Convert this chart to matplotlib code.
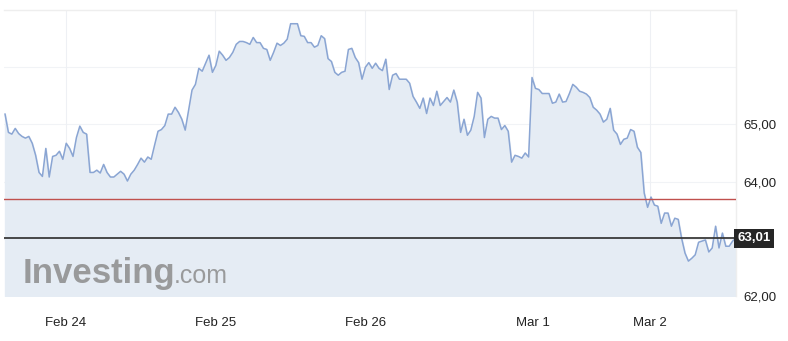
import matplotlib.pyplot as plt
import numpy as np

plt.rcParams['font.family'] = ['Liberation Sans', 'DejaVu Sans']

# Data (price, evenly spaced samples)
prices = [
    65.18, 64.86, 64.83, 64.93, 64.84, 64.79, 64.76, 64.79, 64.67, 64.46,
    64.16, 64.09, 64.58, 64.08, 64.44, 64.46, 64.53, 64.39, 64.67, 64.58,
    64.44, 64.77, 64.97, 64.86, 64.83, 64.16, 64.16, 64.20, 64.15, 64.30,
    64.16, 64.08, 64.08, 64.13, 64.18, 64.13, 64.01, 64.13, 64.20, 64.30,
    64.41, 64.34, 64.43, 64.39, 64.64, 64.88, 64.91, 64.98, 65.18, 65.18,
    65.30, 65.21, 65.09, 64.90, 65.25, 65.60, 65.70, 65.98, 65.93, 66.07,
    66.21, 65.91, 66.03, 66.28, 66.21, 66.12, 66.17, 66.26, 66.40, 66.45,
    66.45, 66.43, 66.40, 66.52, 66.43, 66.43, 66.33, 66.31, 66.12, 66.26,
    66.42, 66.38, 66.42, 66.49, 66.76, 66.76, 66.76, 66.55, 66.54, 66.43,
    66.43, 66.35, 66.38, 66.55, 66.50, 66.15, 66.10, 65.91, 65.86, 65.91,
    65.93, 66.31, 66.33, 66.17, 66.08, 65.79, 66.00, 66.08, 65.98, 66.07,
    65.98, 65.94, 66.14, 65.61, 65.86, 65.89, 65.79, 65.79, 65.79, 65.72,
    65.49, 65.39, 65.28, 65.46, 65.19, 65.46, 65.33, 65.58, 65.33, 65.40,
    65.47, 65.39, 65.60, 65.39, 64.86, 65.09, 64.81, 64.90, 65.14, 65.56,
    65.46, 64.77, 65.09, 65.14, 65.11, 65.11, 64.91, 64.98, 64.88, 64.34,
    64.46, 64.44, 64.41, 64.50, 64.43, 65.82, 65.63, 65.61, 65.54, 65.54,
    65.54, 65.37, 65.39, 65.53, 65.39, 65.40, 65.54, 65.70, 65.65, 65.58,
    65.56, 65.53, 65.47, 65.30, 65.25, 65.18, 65.04, 65.09, 65.28, 64.90,
    64.83, 64.65, 64.74, 64.76, 64.91, 64.88, 64.60, 64.51, 63.80, 63.55,
    63.73, 63.59, 63.57, 63.27, 63.45, 63.45, 63.22, 63.36, 63.34, 63.01,
    62.75, 62.61, 62.66, 62.72, 62.94, 62.96, 62.98, 62.77, 62.84, 63.22,
    62.84, 63.10, 62.87, 62.87, 62.96, 63.01,
]
date_labels = ['Feb 24', 'Feb 25', 'Feb 26', 'Mar 1', 'Mar 2']
date_positions = [17.9, 61.8, 105.9, 155.3, 189.7]
y_ticks = [62, 64, 65]
red_level = 63.69
last_price = prices[-1]

x = np.arange(len(prices))

fig = plt.figure(figsize=(7.88, 3.41), dpi=100)
ax = fig.add_axes([4 / 788, 45 / 341, 732 / 788, 286 / 341])

ax.fill_between(x, prices, 62, color='#e5ecf4', zorder=1)
ax.plot(x, prices, color='#8aa5d3', linewidth=1.1, zorder=3)

# grid
for yv in [63, 64, 65, 66]:
    ax.axhline(yv, color='#f1f3f6', linewidth=0.8, zorder=0.5)
for xv in date_positions:
    ax.axvline(xv, color='#eef0f4', linewidth=0.8, zorder=0.5)

ax.axhline(red_level, color='#c0504d', linewidth=1.0, zorder=4)
ax.axhline(last_price, color='#3a3a3a', linewidth=1.3, zorder=4)

ax.set_xlim(-0.3, len(prices) - 1)
ax.set_ylim(62, 67)

ax.set_xticks(date_positions)
ax.set_xticklabels(date_labels, fontsize=9.5, color='#222222')
ax.yaxis.tick_right()
ax.set_yticks(y_ticks)
ax.set_yticklabels([f'{v:.2f}'.replace('.', ',') for v in y_ticks],
                   fontsize=9.5, color='#222222')
ax.tick_params(axis='both', length=0)
ax.tick_params(axis='x', pad=15)
ax.tick_params(axis='y', pad=5)
for side in ['left', 'bottom']:
    ax.spines[side].set_visible(False)
for side in ['top', 'right']:
    ax.spines[side].set_color('#eeeeee')
    ax.spines[side].set_linewidth(1.0)

# last price tag
ax.text(1.002, last_price, f'{last_price:.2f}'.replace('.', ','),
        transform=ax.get_yaxis_transform(), ha='left', va='center',
        fontsize=9.5, fontweight='bold', color='white', zorder=6,
        bbox=dict(boxstyle='square,pad=0.25', facecolor='#262626', edgecolor='none'))

# watermark
ax.text(0.025, 0.045, 'Investing', transform=ax.transAxes, fontsize=25,
        fontweight='bold', color='#8c8c8c', alpha=0.85, zorder=2)
ax.text(0.232, 0.045, '.com', transform=ax.transAxes, fontsize=18,
        color='#8c8c8c', alpha=0.85, zorder=2)

plt.savefig('out.png', dpi=100)
plt.close()
